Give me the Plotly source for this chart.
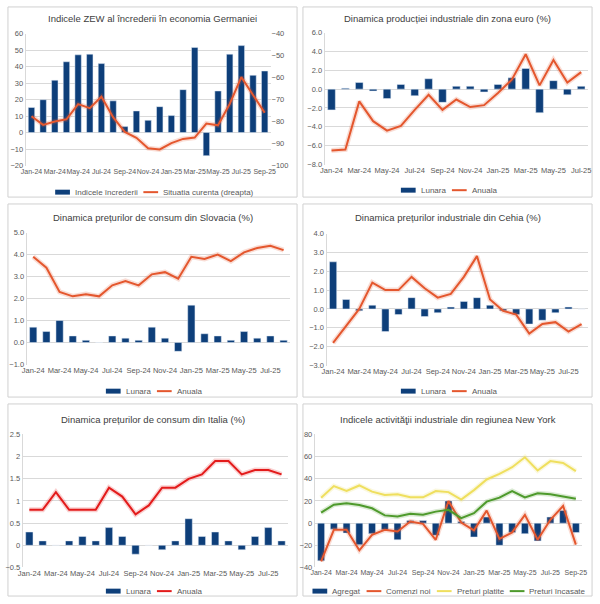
import plotly.graph_objects as go

# ---------------- data ----------------
months21 = ["Jan-24","Feb-24","Mar-24","Apr-24","May-24","Jun-24","Jul-24","Aug-24","Sep-24","Oct-24","Nov-24","Dec-24",
            "Jan-25","Feb-25","Mar-25","Apr-25","May-25","Jun-25","Jul-25","Aug-25","Sep-25"]
months19 = months21[:19]
months20 = months21[:20]

zew_bars = [15.2, 19.9, 31.7, 42.9, 47.1, 47.5, 41.8, 19.2, 3.6, 13.1, 7.4, 15.7,
            10.3, 26.0, 51.6, -14.0, 25.2, 47.5, 52.7, 34.7, 37.3]
zew_line = [-77.6, -81.5, -80.0, -79.0, -72.1, -73.9, -68.7, -78.0, -84.7, -87.4, -92.1, -92.7,
            -89.8, -87.9, -87.3, -80.9, -81.7, -72.0, -59.8, -68.0, -76.0]

ez_bars = [-2.2, 0.1, 0.7, -0.2, -1.0, 0.5, -0.7, 1.1, -1.4, 0.3, 0.3, -0.3,
           0.5, 1.2, 2.2, -2.5, 0.9, -0.6, 0.3]
ez_line = [-6.5, -6.4, -1.3, -3.4, -4.4, -3.9, -2.2, -0.6, -2.2, -1.1, -1.9, -1.7,
           -0.4, 1.0, 3.7, 0.4, 3.1, 0.7, 1.8]

sk_bars = [0.7, 0.5, 1.0, 0.3, 0.1, 0.0, 0.3, 0.2, 0.1, 0.7, 0.2, -0.4,
           1.7, 0.4, 0.3, 0.1, 0.5, 0.2, 0.3, 0.1]
sk_line = [3.9, 3.4, 2.3, 2.1, 2.2, 2.1, 2.6, 2.8, 2.6, 3.1, 3.2, 2.9,
           3.9, 3.8, 4.0, 3.7, 4.1, 4.3, 4.4, 4.2]

cz_bars = [2.5, 0.5, -0.1, 0.2, -1.2, -0.3, 0.6, -0.4, -0.2, 0.1, 0.4, 0.6,
           0.2, -0.1, -0.3, -0.8, -0.6, -0.2, 0.1, 0.0]
cz_line = [-1.8, -0.9, 0.0, 1.4, 1.0, 1.0, 1.7, 1.1, 0.6, 0.8, 1.7, 2.8,
           0.5, -0.1, -0.3, -1.3, -0.8, -0.7, -1.2, -0.8]

it_bars = [0.3, 0.1, 0.0, 0.1, 0.2, 0.1, 0.4, 0.2, -0.2, 0.0, -0.1, 0.1,
           0.6, 0.2, 0.3, 0.1, -0.1, 0.2, 0.4, 0.1]
it_line = [0.8, 0.8, 1.2, 0.8, 0.8, 0.8, 1.3, 1.1, 0.7, 0.9, 1.3, 1.3,
           1.5, 1.6, 1.9, 1.9, 1.6, 1.7, 1.7, 1.6]

ny_agregat = [-34.0, -5.4, -9.0, -19.5, -9.5, -6.0, -15.0, 2.4, 2.4, -11.0, 20.0, 1.5,
              -12.5, 5.5, -20.0, -8.4, -9.5, -16.0, 5.5, 11.5, -8.5]
ny_comenzi = [-34.5, -6.0, -6.0, -24.5, -10.5, -6.0, -7.5, 1.5, -0.6, -15.0, 20.0, 0.6,
              -6.5, 11.3, -14.3, -8.4, 7.5, -15.0, 3.0, 15.5, -19.4]
ny_platite = [23.0, 33.4, 29.0, 34.0, 28.4, 25.4, 26.0, 23.3, 23.3, 29.0, 28.0, 21.2,
              29.8, 39.4, 44.5, 50.5, 59.4, 47.5, 56.0, 54.3, 47.0]
ny_incasate = [9.5, 16.7, 18.0, 16.4, 13.4, 7.0, 6.0, 8.4, 7.5, 10.4, 12.0, 4.5,
               9.0, 19.4, 23.0, 29.0, 23.3, 27.0, 26.0, 24.0, 22.0]

titles = ["Indicele ZEW al încrederii în economia Germaniei",
          "Dinamica producției industriale din zona euro (%)",
          "Dinamica prețurilor de consum din Slovacia (%)",
          "Dinamica prețurilor industriale din Cehia (%)",
          "Dinamica prețurilor de consum din Italia (%)",
          "Indicele activităţii industriale din regiunea New York"]

# ---------------- styling ----------------
W, H = 600, 604
BAR = "#0E3F7A"
ORANGE = "#E4572E"
RED = "#E31B1B"
YELLOW = "#EFDF5E"
GREEN = "#4E9A2C"
GRID = "#D9D9D9"
TICK = "#595959"
FONT = "Liberation Sans"
LEGFONT = 8

def px_x(p):
    return p / W

def px_y(p):
    return 1 - p / H

CW = {"i": .222, "l": .222, "j": .222, "î": .278, "t": .278, "f": .278, "r": .333, " ": .278,
      "I": .278, "m": .833, "w": .722, "c": .5, "k": .5, "s": .5, "v": .5, "x": .5, "y": .5,
      "z": .5, "(": .333, ")": .333, "A": .667, "C": .722, "L": .556, "P": .667, "S": .667}

def text_w(s, size):
    return sum(CW.get(ch, .556) for ch in s) * size

fig = go.Figure()

frames = [(3, 3, 297, 196), (303, 3, 597, 196),
          (3, 203, 297, 399), (303, 203, 597, 399),
          (3, 406, 297, 601), (303, 406, 597, 601)]
plots = [(21, 30, 270, 164), (325, 29, 593, 163),
         (22, 232, 290, 366), (327, 233, 593, 367),
         (18, 437, 288, 572), (315, 437, 587, 572)]
title_y = [15, 15, 217, 217, 422, 422]
legend_y = [191, 189, 393, 393, 596, 596]
xtick_size = [7, 7.5, 7.5, 7.5, 7.5, 7]

legends = [[] for _ in range(6)]

def glow(xcats, vals, color, xa, ya):
    fig.add_trace(go.Scatter(x=xcats, y=vals, mode="lines", xaxis=xa, yaxis=ya,
                             line=dict(color=color, width=5), opacity=0.2,
                             showlegend=False, hoverinfo="skip"))

def bar(p, xcats, vals, name, xa, ya):
    fig.add_trace(go.Bar(x=xcats, y=vals, name=name, marker_color=BAR, xaxis=xa, yaxis=ya,
                         showlegend=False))
    legends[p].append((name, "bar", BAR))

def line(p, xcats, vals, name, color, xa, ya):
    glow(xcats, vals, color, xa, ya)
    fig.add_trace(go.Scatter(x=xcats, y=vals, name=name, mode="lines", xaxis=xa, yaxis=ya,
                             line=dict(color=color, width=2), showlegend=False))
    legends[p].append((name, "line", color))

# Panel 1
bar(0, months21, zew_bars, "Indicele încrederii", "x", "y")
line(0, months21, zew_line, "Situatia curenta (dreapta)", ORANGE, "x", "y7")
# Panel 2
bar(1, months19, ez_bars, "Lunara", "x2", "y2")
line(1, months19, ez_line, "Anuala", ORANGE, "x2", "y2")
# Panel 3
bar(2, months20, sk_bars, "Lunara", "x3", "y3")
line(2, months20, sk_line, "Anuala", ORANGE, "x3", "y3")
# Panel 4
bar(3, months20, cz_bars, "Lunara", "x4", "y4")
line(3, months20, cz_line, "Anuala", ORANGE, "x4", "y4")
# Panel 5
bar(4, months20, it_bars, "Lunara", "x5", "y5")
line(4, months20, it_line, "Anuala", RED, "x5", "y5")
# Panel 6
bar(5, months21, ny_agregat, "Agregat", "x6", "y6")
line(5, months21, ny_comenzi, "Comenzi noi", ORANGE, "x6", "y6")
line(5, months21, ny_platite, "Preturi platite", YELLOW, "x6", "y6")
line(5, months21, ny_incasate, "Preturi încasate", GREEN, "x6", "y6")

cats = [months21, months19, months20, months20, months20, months21]
yranges = [(-20, 60, 10, None), (-8, 6, 2, ".1f"), (-1, 5, 1, ".1f"),
           (-3, 4, 1, ".1f"), (-0.5, 2.5, 0.5, None), (-40, 80, 20, None)]

layout = dict(width=W, height=H, margin=dict(l=0, r=0, t=0, b=0),
              paper_bgcolor="white", plot_bgcolor="rgba(0,0,0,0)",
              font=dict(family=FONT, size=8, color=TICK),
              bargap=0.45, showlegend=False)

shapes = []
annotations = []
SYM_W, SYM_GAP, ITEM_GAP = 15, 3, 9
for i in range(6):
    n = "" if i == 0 else str(i + 1)
    x0, y0, x1, y1 = plots[i]
    ymin, ymax, dt, fmt = yranges[i]
    layout["xaxis" + n] = dict(domain=[px_x(x0), px_x(x1)], anchor="y" + n,
                               type="category", categoryorder="array", categoryarray=cats[i],
                               tickvals=cats[i][::2], ticks="", showgrid=False,
                               showline=False, zeroline=False, tickangle=0,
                               tickfont=dict(size=xtick_size[i], color=TICK))
    yax = dict(domain=[px_y(y1), px_y(y0)], anchor="x" + n, range=[ymin, ymax], dtick=dt,
               tick0=ymin, showgrid=True, gridcolor=GRID, gridwidth=1,
               zeroline=True, zerolinecolor=GRID, zerolinewidth=1,
               showline=True, linecolor=GRID, linewidth=1, ticks="",
               tickfont=dict(size=7.5, color=TICK))
    if fmt:
        yax["tickformat"] = fmt
    layout["yaxis" + n] = yax
    fx0, fy0, fx1, fy1 = frames[i]
    shapes.append(dict(type="rect", xref="paper", yref="paper",
                       x0=px_x(fx0), x1=px_x(fx1), y0=px_y(fy1), y1=px_y(fy0),
                       line=dict(color="#D0D0D0", width=1), fillcolor="rgba(0,0,0,0)",
                       layer="below"))
    annotations.append(dict(text=titles[i], xref="paper", yref="paper",
                            x=px_x((fx0 + fx1) / 2), y=px_y(title_y[i]),
                            xanchor="center", yanchor="middle", showarrow=False,
                            font=dict(size=9.5, color="#404040", family=FONT)))
    # manual legend
    items = legends[i]
    widths = [SYM_W + SYM_GAP + text_w(nm, LEGFONT) for nm, _, _ in items]
    total = sum(widths) + ITEM_GAP * (len(items) - 1)
    cx = (fx0 + fx1) / 2
    xs = cx - total / 2
    ly = legend_y[i]
    for (nm, kind, col), wdt in zip(items, widths):
        if kind == "bar":
            shapes.append(dict(type="rect", xref="paper", yref="paper",
                               x0=px_x(xs), x1=px_x(xs + SYM_W), y0=px_y(ly + 2.5), y1=px_y(ly - 2.5),
                               fillcolor=col, line=dict(width=0)))
        else:
            shapes.append(dict(type="line", xref="paper", yref="paper",
                               x0=px_x(xs), x1=px_x(xs + SYM_W), y0=px_y(ly), y1=px_y(ly),
                               line=dict(color=col, width=2)))
        annotations.append(dict(text=nm, xref="paper", yref="paper",
                                x=px_x(xs + SYM_W + SYM_GAP), y=px_y(ly),
                                xanchor="left", yanchor="middle", showarrow=False,
                                font=dict(size=LEGFONT, color=TICK, family=FONT)))
        xs += wdt + ITEM_GAP

# right axis for panel 1
x0, y0, x1, y1 = plots[0]
layout["yaxis7"] = dict(domain=[px_y(y1), px_y(y0)], anchor="x", overlaying="y", side="right",
                        range=[-100, -40], dtick=10, tick0=-100, showgrid=False,
                        zeroline=False, showline=False, ticks="",
                        tickfont=dict(size=7.5, color=TICK))

layout["shapes"] = shapes
layout["annotations"] = annotations
fig.update_layout(**layout)

fig.write_html("out.html", config={"displayModeBar": False},
               post_script="document.body.style.margin='0px';document.body.style.overflow='hidden';")
